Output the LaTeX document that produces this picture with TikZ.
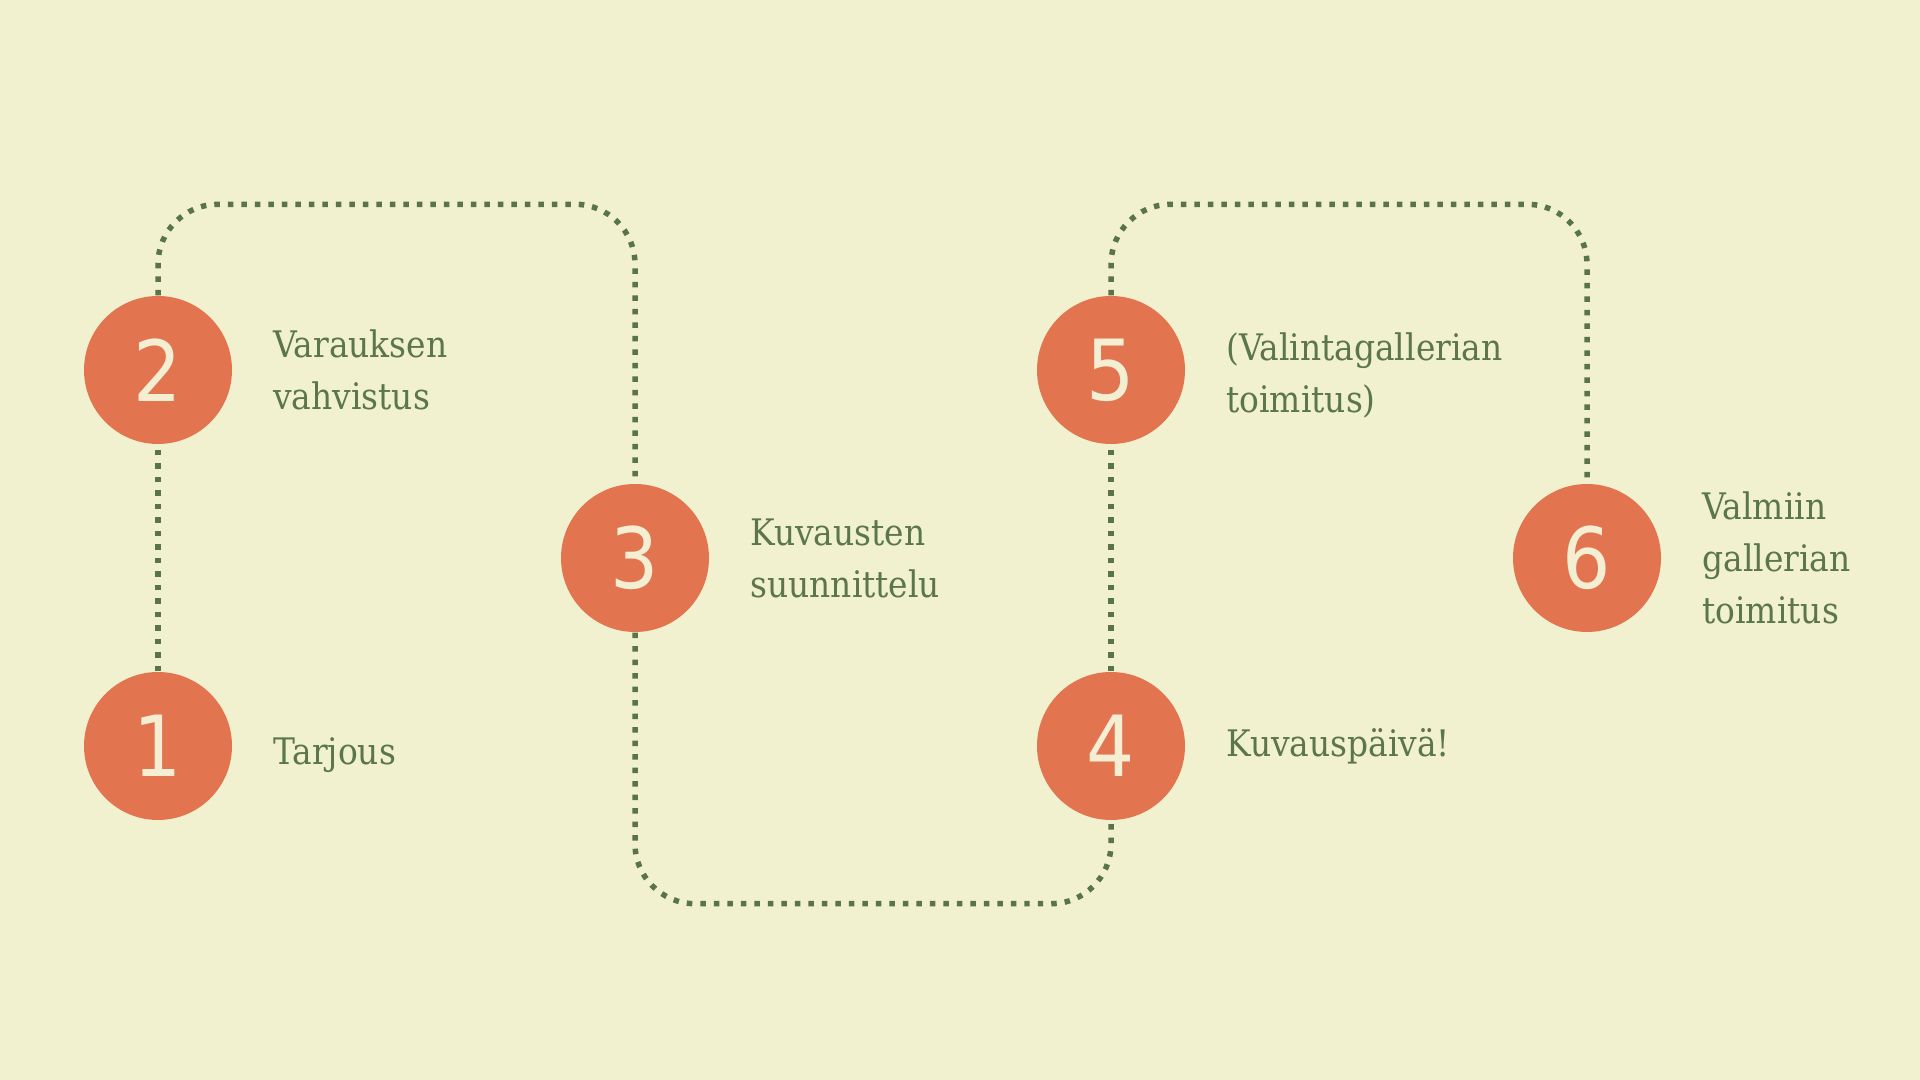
\documentclass[tikz,border=0pt]{standalone}
\usepackage{fontspec}
\setmainfont{DejaVu Serif Condensed}
\newfontfamily\digitfont{DejaVu Sans Condensed}
\usetikzlibrary{positioning}

\definecolor{creambg}{HTML}{F1F0CF}
\definecolor{stepfill}{HTML}{E37450}
\definecolor{stepdigit}{HTML}{F4EFD2}
\definecolor{trailgreen}{HTML}{5A7449}
\definecolor{labelgreen}{HTML}{5B7749}

\tikzset{
	stepdot/.style={circle, fill=stepfill, minimum size=1.48cm, inner sep=0pt,
		text=stepdigit, font=\digitfont\fontsize{24}{24}\selectfont},
	steplabel/.style={inner sep=0pt, align=left, text=labelgreen,
		font=\fontsize{10.4}{14.8}\selectfont},
	trail/.style={line width=0.055cm, color=trailgreen, dash pattern=on 0.055cm off 0.08cm},
}

\begin{document}
\begin{tikzpicture}
			%%%%% START %%%%%
			
			\fill[creambg] (0, 0) rectangle (19.2, 10.8);
			\useasboundingbox (0, 0) rectangle (19.2, 10.8);
			
			\node[stepdot] (one) at (1.58, 3.34) {1};
			\node[stepdot] (two) at (1.58, 7.10) {2};
			\node[stepdot] (three) at (6.35, 5.22) {3};
			\node[stepdot] (four) at (11.11, 3.34) {4};
			\node[stepdot] (five) at (11.11, 7.10) {5};
			\node[stepdot] (six) at (15.87, 5.22) {6};
			
			\node[steplabel, right=0.4cm of one, yshift=-0.09cm] (onetext) {Tarjous};
			\node[steplabel, right=0.4cm of two] (twotext) {Varauksen\\vahvistus};
			\node[steplabel, right=0.4cm of three] (threetext) {Kuvausten\\suunnittelu};
			\node[steplabel, right=0.4cm of four] (fourtext) {Kuvauspäivä!};
			\node[steplabel, right=0.4cm of five, yshift=-0.05cm] (fivetext) {(Valintagallerian\\toimitus)};
			\node[steplabel, right=0.4cm of six] (sixtext) {Valmiin\\gallerian\\toimitus};
			
			\draw[trail] (one.north) -- (two.south);
			\draw[trail, rounded corners=0.6cm] (two.north) -- ++(0, 0.91) -| (three.north);
			\draw[trail, rounded corners=0.6cm] (three.south) -- ++(0, -2.71) -| (four.south);
			\draw[trail] (four.north) -- (five.south);
			\draw[trail, rounded corners=0.6cm] (five.north) -- ++(0, 0.91) -| (six.north);
			
			%%%%% END %%%%%
		\end{tikzpicture}
\end{document}
